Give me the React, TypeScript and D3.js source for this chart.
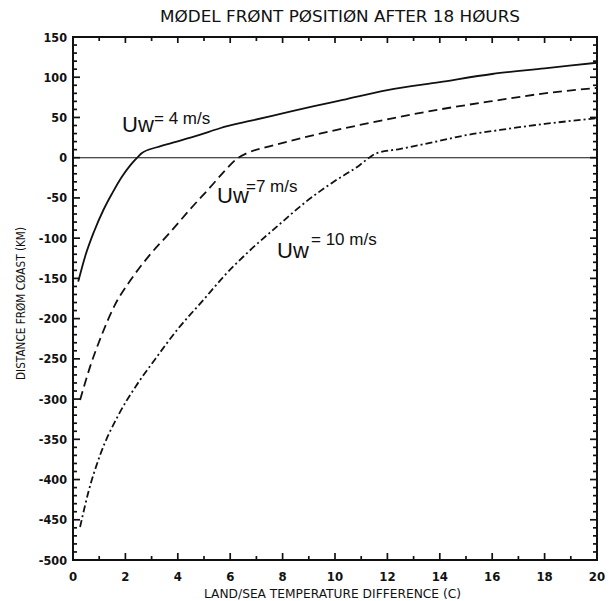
import { useEffect, useRef } from 'react';
import * as d3 from 'd3';

// [temperature difference C, distance from coast km]
const uw4: [number, number][] = [
  [0.2, -154], [0.46, -123], [0.8, -92], [1.16, -65], [1.5, -44], [1.86, -24],
  [2.2, -9], [2.45, 0], [2.62, 5.5], [3.2, 13], [3.96, 20], [4.8, 28], [5.61, 36.6],
  [6.8, 46], [8, 55], [9.2, 64], [10.3, 71.8], [12, 84], [14, 94], [16, 104],
  [18, 111], [20, 118]
];
const uw7: [number, number][] = [
  [0.27, -301], [0.65, -260], [1.1, -220], [1.6, -183], [2.2, -152], [2.9, -122],
  [3.7, -93], [4.5, -63], [5.23, -37], [5.8, -16], [6.31, 0], [6.63, 5.5], [7.5, 14],
  [8.8, 25], [10.95, 40.7], [12.5, 51], [14, 60], [16.3, 71.8], [18, 80], [20, 86.7]
];
const uw10: [number, number][] = [
  [0.27, -459], [0.6, -414], [1.03, -370], [1.73, -320], [2.4, -284], [3.1, -252],
  [4.0, -213], [4.97, -177], [5.8, -146], [6.76, -115], [7.77, -86], [8.92, -54],
  [9.9, -31], [10.95, -9], [11.3, 0], [11.55, 5], [12.5, 11], [14, 21], [15, 28],
  [16.3, 34.5], [18, 42], [20, 49]
];

const xTicks = [0, 2, 4, 6, 8, 10, 12, 14, 16, 18, 20];
const yTicks = [150, 100, 50, 0, -50, -100, -150, -200, -250, -300, -350, -400, -450, -500];

const series = [
  { name: '4', data: uw4, dash: null },
  { name: '7', data: uw7, dash: '9,5' },
  { name: '10', data: uw10, dash: '7,3,2,3' }
];

export default function App() {
  const ref = useRef<SVGSVGElement>(null);

  useEffect(() => {
    const width = 611;
    const height = 601;
    const left = 73, right = 597, top = 37, bottom = 560;
    const font = "'DejaVu Sans', sans-serif";

    const x = d3.scaleLinear().domain([0, 20]).range([left, right]);
    const y = d3.scaleLinear().domain([-500, 150]).range([bottom, top]);

    const svg = d3.select(ref.current)
      .attr('width', width)
      .attr('height', height);
    svg.selectAll('*').remove();

    svg.append('rect').attr('width', width).attr('height', height).attr('fill', '#fff');

    const g = svg.append('g');

    // frame
    g.append('rect')
      .attr('x', left).attr('y', top)
      .attr('width', right - left).attr('height', bottom - top)
      .attr('fill', 'none').attr('stroke', '#111').attr('stroke-width', 2);

    // minor / major ticks, all pointing inward
    const xt = d3.range(0, 21, 1);
    g.selectAll('.xtb').data(xt).join('line')
      .attr('x1', d => x(d)).attr('x2', d => x(d))
      .attr('y1', bottom).attr('y2', d => bottom - (d % 2 === 0 ? 7 : 4))
      .attr('stroke', '#111').attr('stroke-width', 1.7);
    g.selectAll('.xtt').data(xt).join('line')
      .attr('x1', d => x(d)).attr('x2', d => x(d))
      .attr('y1', top).attr('y2', d => top + (d % 2 === 0 ? 6 : 4))
      .attr('stroke', '#111').attr('stroke-width', 1.7);

    const yt = d3.range(-500, 151, 10);
    g.selectAll('.ytl').data(yt).join('line')
      .attr('x1', left).attr('x2', d => left + (d % 50 === 0 ? 7 : 4))
      .attr('y1', d => y(d)).attr('y2', d => y(d))
      .attr('stroke', '#111').attr('stroke-width', 1.7);
    g.selectAll('.ytr').data(yt).join('line')
      .attr('x1', right).attr('x2', d => right - (d % 50 === 0 ? 7 : 4))
      .attr('y1', d => y(d)).attr('y2', d => y(d))
      .attr('stroke', '#111').attr('stroke-width', 1.7);

    // zero line
    g.append('line')
      .attr('x1', left).attr('x2', right)
      .attr('y1', y(0)).attr('y2', y(0))
      .attr('stroke', '#111').attr('stroke-width', 1.1);

    // tick labels
    g.selectAll('.xl').data(xTicks).join('text')
      .attr('x', d => x(d)).attr('y', 581)
      .attr('text-anchor', 'middle')
      .style('font-family', font).style('font-weight', 'bold').style('font-size', '13px')
      .style('font-stretch', 'condensed')
      .attr('fill', '#111')
      .text(d => d);

    g.selectAll('.yl').data(yTicks).join('text')
      .attr('x', 67).attr('y', d => y(d) + 4.5)
      .attr('text-anchor', 'end')
      .style('font-family', font).style('font-weight', 'bold').style('font-size', '12.5px')
      .style('font-stretch', 'condensed')
      .attr('fill', '#111')
      .text(d => d);

    // title and axis labels
    svg.append('text')
      .attr('x', 160).attr('y', 22)
      .attr('textLength', 360).attr('lengthAdjust', 'spacingAndGlyphs')
      .style('font-family', font).style('font-size', '15px')
      .attr('fill', '#111')
      .text('MØDEL FRØNT PØSITIØN AFTER 18 HØURS');

    svg.append('text')
      .attr('x', 204).attr('y', 598)
      .attr('textLength', 257).attr('lengthAdjust', 'spacingAndGlyphs')
      .style('font-family', font).style('font-size', '12px')
      .attr('fill', '#111')
      .text('LAND/SEA TEMPERATURE DIFFERENCE (C)');

    svg.append('text')
      .attr('transform', 'translate(25,380) rotate(-90)')
      .attr('textLength', 153).attr('lengthAdjust', 'spacingAndGlyphs')
      .style('font-family', font).style('font-size', '11.5px')
      .attr('fill', '#111')
      .text('DISTANCE FRØM CØAST (KM)');

    // curves
    const line = d3.line<[number, number]>()
      .x(d => x(d[0]))
      .y(d => y(d[1]))
      .curve(d3.curveMonotoneX);

    series.forEach(s => {
      const p = g.append('path')
        .attr('d', line(s.data))
        .attr('fill', 'none')
        .attr('stroke', '#111')
        .attr('stroke-width', 1.8);
      if (s.dash) p.attr('stroke-dasharray', s.dash);
    });

    // curve labels
    const labels = [
      { t: '= 4 m/s', ux: 122, uy: 132, sx: 154, sy: 124 },
      { t: '=7 m/s', ux: 217, uy: 203, sx: 246, sy: 192 },
      { t: '= 10 m/s', ux: 277, uy: 258, sx: 311, sy: 245 }
    ];
    labels.forEach(l => {
      svg.append('text')
        .attr('x', l.ux).attr('y', l.uy)
        .style('font-family', "'Liberation Sans', Arial, sans-serif")
        .style('font-size', '22px')
        .attr('fill', '#111')
        .text('Uw');
      svg.append('text')
        .attr('x', l.sx).attr('y', l.sy)
        .style('font-family', "'Liberation Sans', Arial, sans-serif")
        .style('font-size', '17px')
        .attr('fill', '#111')
        .text(l.t);
    });
  }, []);

  return (
    <svg ref={ref} style={{ position: 'absolute', left: 0, top: 0, display: 'block' }} />
  );
}
